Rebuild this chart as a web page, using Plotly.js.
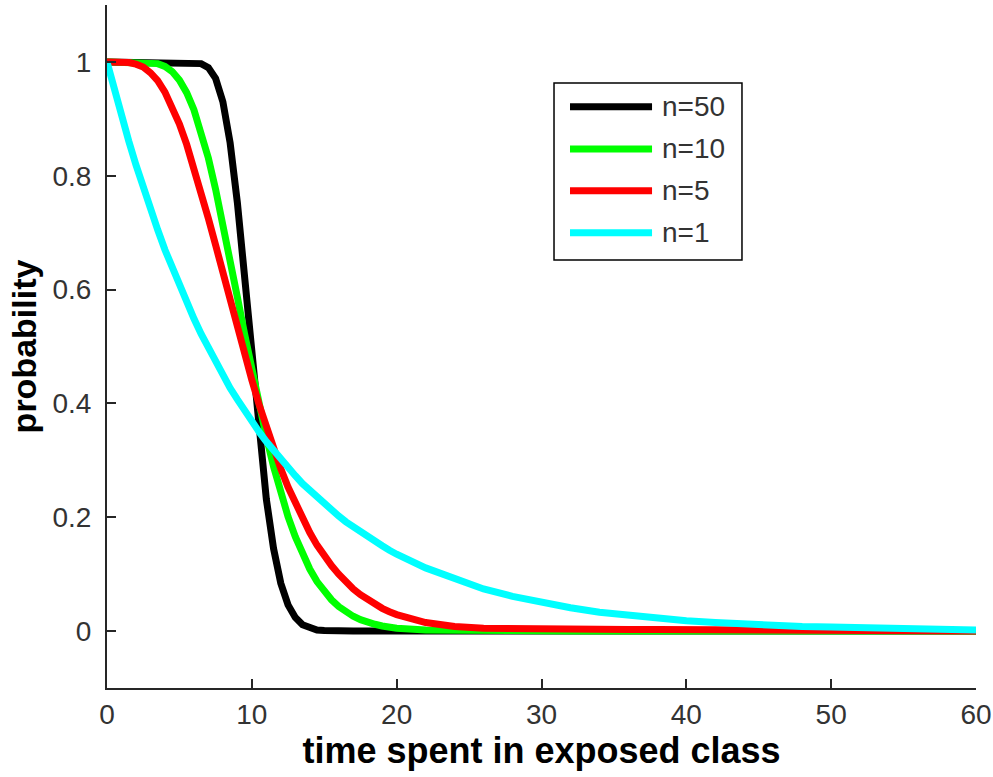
<!DOCTYPE html>
<html>
<head>
<meta charset="utf-8">
<script src="https://cdn.plot.ly/plotly-3.0.1.min.js"></script>
<style>
html,body{margin:0;padding:0;background:#fff;}
#chart{width:993px;height:777px;}
</style>
</head>
<body>
<div id="chart"></div>
<script>
// time points (days)
const timePoints = [0,0.5,1,1.5,2,2.5,3,3.5,4,4.5,5,5.5,6,6.5,7,7.5,8,8.5,9,9.5,10,10.5,11,11.5,12,12.5,13,13.5,14,14.5,15,15.5,16,16.5,17,17.5,18,18.5,19,19.5,20,22,24,26,28,30,32,34,36,38,40,42,44,46,48,50,52,54,56,58,60];

const seriesNames = ["n=50", "n=10", "n=5", "n=1"];
const seriesColors = ["#000000", "#00ff00", "#ff0000", "#00ffff"];

const probN50 = [1,1,1,1,1,1,1,1,1,1,1,1,0.999,0.997,0.990,0.971,0.930,0.858,0.753,0.623,0.481,0.347,0.232,0.145,0.084,0.046,0.024,0.011,0.005,0.002,0.001,0,0,0,0,0,0,0,0,0,0,0,0,0,0,0,0,0,0,0,0,0,0,0,0,0,0,0,0,0,0];

const probN10 = [1,1,1,1,1,1,0.999,0.997,0.992,0.983,0.968,0.946,0.916,0.877,0.831,0.776,0.717,0.653,0.587,0.522,0.458,0.397,0.341,0.289,0.242,0.201,0.166,0.135,0.109,0.087,0.070,0.055,0.043,0.034,0.026,0.020,0.015,0.012,0.009,0.007,0.005,0.002,0.001,0,0,0,0,0,0,0,0,0,0,0,0,0,0,0,0,0,0];

const probN5 = [1,1,1,0.999,0.996,0.991,0.981,0.967,0.947,0.922,0.891,0.855,0.815,0.772,0.725,0.678,0.629,0.580,0.532,0.485,0.441,0.398,0.358,0.320,0.285,0.253,0.224,0.197,0.173,0.151,0.132,0.115,0.100,0.086,0.074,0.064,0.055,0.047,0.040,0.034,0.029,0.015,0.008,0.005,0.004,0.004,0.004,0.004,0.003,0.003,0.003,0.003,0.002,0.002,0.002,0.001,0.001,0,0,0,0];

const probN1 = [1,0.951,0.905,0.861,0.819,0.779,0.741,0.705,0.670,0.638,0.607,0.577,0.549,0.522,0.497,0.472,0.449,0.427,0.407,0.387,0.368,0.350,0.333,0.317,0.301,0.287,0.273,0.259,0.247,0.235,0.223,0.212,0.202,0.192,0.183,0.174,0.165,0.157,0.150,0.142,0.135,0.111,0.091,0.074,0.061,0.050,0.041,0.033,0.027,0.022,0.018,0.015,0.012,0.010,0.008,0.007,0.006,0.005,0.004,0.003,0.002];

const xTickVals = [0,10,20,30,40,50,60];
const xTickText = ["0","10","20","30","40","50","60"];
const yTickVals = [0,0.2,0.4,0.6,0.8,1];
const yTickText = ["0","0.2","0.4","0.6","0.8","1"];

const allSeries = [probN50, probN10, probN5, probN1];

const traces = allSeries.map((vals, i) => ({
  x: timePoints,
  y: vals,
  type: "scatter",
  mode: "lines",
  name: seriesNames[i],
  line: {color: seriesColors[i], width: 7},
  showlegend: false,
  hoverinfo: "skip"
}));

// custom legend (box, line samples, labels) in paper coordinates
const legBox = {x0: 0.5144, x1: 0.7307, y0: 0.6266, y1: 0.8858};
const legRowY = [0.8511, 0.7892, 0.7281, 0.6666];
const shapes = [{
  type: "rect", xref: "paper", yref: "paper",
  x0: legBox.x0, x1: legBox.x1, y0: legBox.y0, y1: legBox.y1,
  line: {color: "#000000", width: 1.5}, fillcolor: "#ffffff", layer: "above"
}];
const annotations = [];
seriesNames.forEach((nm, i) => {
  shapes.push({
    type: "line", xref: "paper", yref: "paper",
    x0: 0.5328, x1: 0.6272, y0: legRowY[i], y1: legRowY[i],
    line: {color: seriesColors[i], width: 7}, layer: "above"
  });
  annotations.push({
    xref: "paper", yref: "paper", x: 0.6364, y: legRowY[i],
    xanchor: "left", yanchor: "middle", text: nm, showarrow: false,
    font: {family: "Liberation Sans, Arial, sans-serif", size: 28, color: "#333333"}
  });
});

const axisCommon = {
  showline: true, linecolor: "#262626", linewidth: 2, mirror: false,
  showgrid: false, zeroline: false,
  ticks: "inside", ticklen: 9, tickwidth: 2, tickcolor: "#262626",
  tickfont: {family: "Liberation Sans, Arial, sans-serif", size: 28, color: "#333333"}
};

const layout = {
  width: 993, height: 777,
  margin: {l: 107, r: 17, t: 5, b: 89},
  paper_bgcolor: "#ffffff", plot_bgcolor: "#ffffff",
  xaxis: Object.assign({}, axisCommon, {
    range: [0, 60], tickmode: "array", tickvals: xTickVals, ticktext: xTickText,
    title: {text: "time spent in exposed class", standoff: 2,
      font: {family: "Liberation Sans, Arial, sans-serif", size: 36, color: "#000000", weight: "bold"}}
  }),
  yaxis: Object.assign({}, axisCommon, {
    range: [-0.1, 1.1], tickmode: "array", tickvals: yTickVals, ticktext: yTickText,
    ticklabelstandoff: 8,
    title: {text: "probability", standoff: 6,
      font: {family: "Liberation Sans, Arial, sans-serif", size: 34, color: "#000000", weight: "bold"}}
  }),
  shapes: shapes,
  annotations: annotations
};

Plotly.newPlot("chart", traces, layout, {displayModeBar: false, staticPlot: true});
</script>
</body>
</html>
